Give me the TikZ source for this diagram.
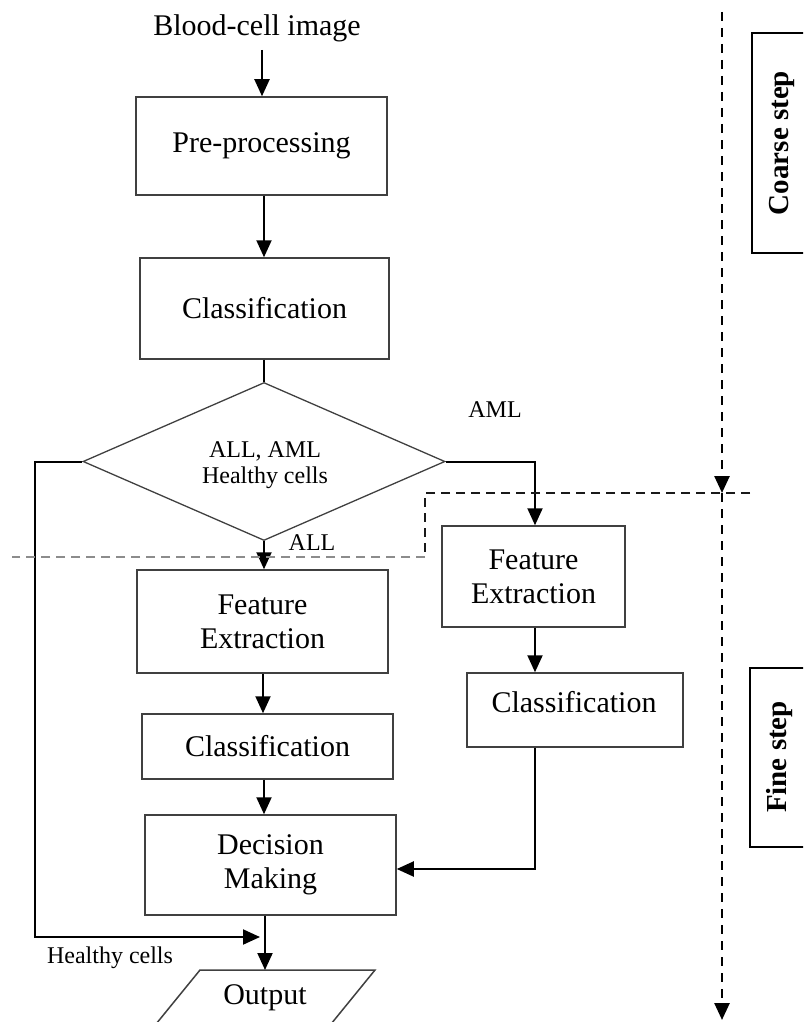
\documentclass[tikz,border=0pt]{standalone}
\usepackage{fontspec}
\setmainfont{Liberation Serif}
\usetikzlibrary{arrows.meta,shapes.geometric}

\begin{document}
\begin{tikzpicture}[x=1pt,y=-1pt,
  box/.style={draw=black!75, line width=1.5pt, inner sep=0pt, align=center,
              font=\fontsize{30}{34}\selectfont},
  lbl/.style={inner sep=0pt, align=center, font=\fontsize{24}{26}\selectfont},
  wire/.style={line width=2pt, draw=black},
  tip/.style={-{Triangle[length=17pt,width=15pt]}},
  arr/.style={wire, tip},
  stage/.style={draw=black, line width=1.6pt},
  stagetext/.style={inner sep=0pt, rotate=90, font=\fontsize{29}{32}\selectfont\bfseries},
  phase/.style={line width=2.6pt, draw=black, dash pattern=on 9pt off 7pt},
  split/.style={line width=1.8pt, dash pattern=on 9pt off 6pt}]

\useasboundingbox (0,0) rectangle (803,1022);
\clip (0,0) rectangle (803,1022);

% main column x-position
\coordinate (mx) at (264,0);

% input label
\node[inner sep=0pt, font=\fontsize{30}{34}\selectfont] (src) at (257,28) {Blood-cell image};
\coordinate (srcend) at (262,50);

% coarse stage
\node[box, minimum width=251pt, minimum height=98pt] (pre) at (261.5,146) {Pre-processing};
\node[box, minimum width=249pt, minimum height=101pt] (cls) at (264.5,308.5) {Classification};
\node[diamond, draw=black!75, line width=1.3pt, inner sep=0pt,
      minimum width=362pt, minimum height=158pt] (dec) at (264,461.5) {};
\node[lbl] (dectext) at (265,465) {ALL, AML\\Healthy cells};

% fine stage, ALL branch
\node[box, minimum width=251pt, minimum height=103pt] (fel) at (262.5,621.5) {Feature\\Extraction};
\node[box, minimum width=251pt, minimum height=65pt] (cll) at (267.5,746.5) {Classification};
\node[box, minimum width=251pt, minimum height=100pt] (dm) at (270.5,865) {Decision\\Making};

% fine stage, AML branch
\node[box, minimum width=183pt, minimum height=101pt] (fer) at (533.5,576.5) {Feature\\Extraction};
\node[box, minimum width=216pt, minimum height=74pt] (clr) at (575,710) {};
\node[inner sep=0pt, font=\fontsize{30}{34}\selectfont] (clrtext) at (574,702) {Classification};

% output
\node[inner sep=0pt, font=\fontsize{30}{34}\selectfont] (out) at (265,998) {Output};
\coordinate (outtop) at (265,970);
\draw[draw=black!75, line width=1.5pt] (200,970) -- (375,970) -- (318,1040) -- (143,1040) -- cycle;

% branch labels
\node[lbl] (aml) at (495,410) {AML};
\node[lbl] (all) at (312,543) {ALL};
\node[lbl] (hc) at (110,958) {Healthy cells};

% connectors
\draw[arr] (srcend) -- (pre.north -| srcend);
\draw[arr] (pre.south -| mx) -- (cls.north -| mx);
\draw[wire] (cls.south -| mx) -- (dec.north);
\draw[arr] (dec.south) -- (fel.north -| dec.south);
\draw[arr] (fel.south -| 263,0) -- (cll.north -| 263,0);
\draw[arr] (cll.south -| mx) -- (dm.north -| mx);
\draw[arr] (dm.south -| outtop) -- (outtop);
\draw[arr] (dec.east) -| (fer.north -| 535,0);
\draw[arr] (fer.south -| 535,0) -- (clr.north -| 535,0);
\draw[arr] (clr.south -| 535,0) |- (dm.east |- 0,869);
\coordinate (hcend) at (260,937);
\draw[arr] (dec.west) -| (35,937) -- (hcend);

% coarse / fine split
\draw[split, draw=black!90] (750,493) -- (425,493) -- (425,557);
\draw[split, draw=black!45] (425,557) -- (12,557);

% stage timeline
\coordinate (ttop) at (722,12);
\coordinate (tmid) at (722,493);
\coordinate (tend) at (722,1020);
\draw[phase, tip] (ttop) -- (tmid);
\draw[phase, tip] (tmid) -- (tend);

% stage tags
\draw[stage] (830,33) -- (752,33) -- (752,253) -- (830,253);
\node[stagetext] (coarse) at (782,143) {Coarse step};
\draw[stage] (830,668) -- (750,668) -- (750,847) -- (830,847);
\node[stagetext] (fine) at (780,757) {Fine step};
\end{tikzpicture}
\end{document}
